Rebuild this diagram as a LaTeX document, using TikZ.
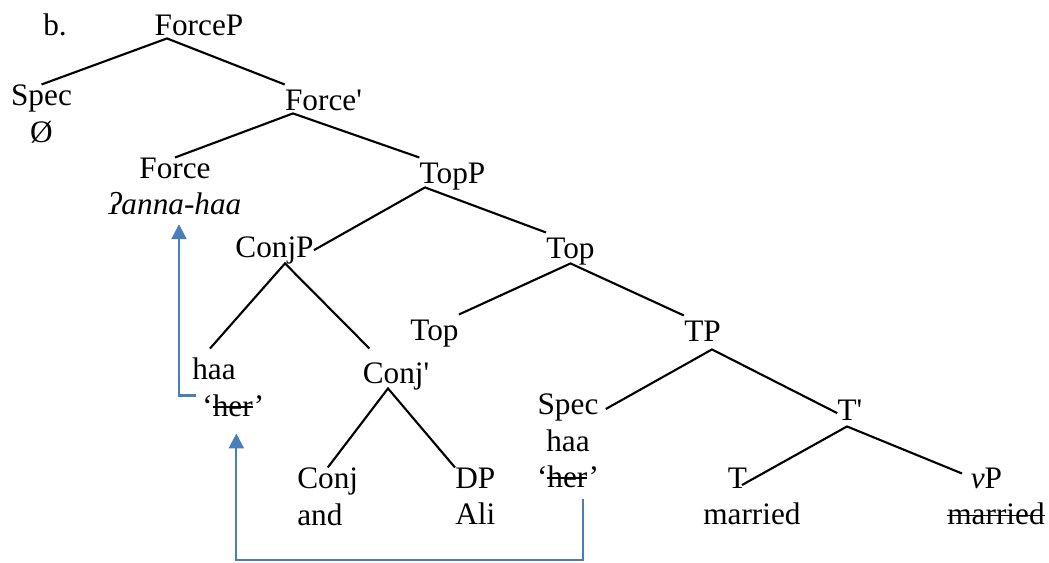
\documentclass[tikz,border=0pt]{standalone}
\usepackage{fontspec}
\setmainfont{Liberation Serif}
\usetikzlibrary{arrows.meta}
\definecolor{Move}{HTML}{4A7EBB}
\newcommand{\treefont}{\fontsize{17.8}{20.8}\selectfont}
\newlength{\struckwd}
\newcommand{\struck}[1]{\settowidth{\struckwd}{#1}\rlap{\rule[0.27em]{\struckwd}{1pt}}#1}

\begin{document}
\begin{tikzpicture}[
  lbl/.style={inner sep=0pt,align=center,font=\treefont,execute at begin node=\strut},
  branch/.style={line width=1.2pt,draw=black},
  move/.style={-{Triangle[length=3mm,width=3mm]},line width=1.2pt,draw=Move}]
\useasboundingbox (0,0) rectangle (20.98,-11.26);
% labels
\node[lbl,anchor=north west] (ex) at (0.86,-0.19) {b.};
\node[lbl,anchor=north] (forceP) at (3.98,-0.19) {ForceP};
\node[lbl,anchor=north] (spec1) at (0.83,-1.69) {Spec\\Ø};
\node[lbl,anchor=north] (force1) at (6.47,-1.69) {Force\textquotesingle};
\node[lbl,anchor=north] (force0) at (3.50,-3.15) {Force\\\textit{ʔanna-haa}};
\node[lbl,anchor=north] (topP) at (9.05,-3.15) {TopP};
\node[lbl,anchor=north] (conjP) at (5.49,-4.63) {ConjP};
\node[lbl,anchor=north] (top1) at (11.41,-4.65) {Top};
\node[lbl,anchor=north] (top0) at (8.69,-6.29) {Top};
\node[lbl,anchor=north] (tP) at (14.05,-6.31) {TP};
\node[lbl,anchor=north west,align=left] (haa1) at (3.84,-7.15) {haa\\\hspace*{0.32em}‘\struck{her}’};
\node[lbl,anchor=north] (conj1) at (7.92,-7.15) {Conj\textquotesingle};
\node[lbl,anchor=north] (spec2) at (11.36,-7.87) {Spec\\haa\\‘\struck{her}’};
\node[lbl,anchor=north] (t1) at (17.00,-7.89) {T\textquotesingle};
\node[lbl,anchor=north west,align=left] (conj0) at (5.94,-9.35) {Conj\\and};
\node[lbl,anchor=north west,align=left] (dP) at (9.10,-9.35) {DP\\Ali};
\node[lbl,anchor=north west,align=left] (t0) at (14.06,-9.35) {\hspace*{0.78em}T\\married};
\node[lbl,anchor=north west,align=left] (vP) at (18.94,-9.35) {\hspace*{0.75em}\textit{v}P\\\struck{married}};
% branches
\draw[branch] (spec1.north) -- ([shift={(-0.64,-0.06)}]forceP.base) -- (force1.north west);
\draw[branch] (force0.north) -- ([shift={(-0.61,-0.06)}]force1.base) -- (topP.north west);
\draw[branch] (conjP.east) -- ([shift={(-0.55,-0.08)}]topP.base) -- (top1.north west);
\draw[branch] ([shift={(0.36,0.18)}]haa1.north west) -- ([shift={(0.21,-0.12)}]conjP.base) -- ([shift={(0.14,0.18)}]conj1.north west);
\draw[branch] (top0.north east) -- ([shift={(0,-0.1)}]top1.base) -- (tP.north west);
\draw[branch] ([shift={(0.13,-0.31)}]spec2.north east) -- ([shift={(0.19,-0.16)}]tP.base) -- (t1.west);
\draw[branch] (conj0.north) -- ([shift={(-0.16,-0.1)}]conj1.base) -- (dP.north west);
\draw[branch] ([shift={(0.78,-0.35)}]t0.north west) -- ([shift={(-0.06,-0.12)}]t1.base) -- ([shift={(0.3,-0.12)}]vP.north west);
% movement
\draw[move] ([shift={(0.08,-0.06)}]haa1.west) -| ([shift={(0.08,0.04)}]force0.south);
\draw[move] ([shift={(0.3,0)}]spec2.south) -- ++(0,-1.22) -| ([shift={(0.16,-0.12)}]haa1.south);
\end{tikzpicture}
\end{document}
